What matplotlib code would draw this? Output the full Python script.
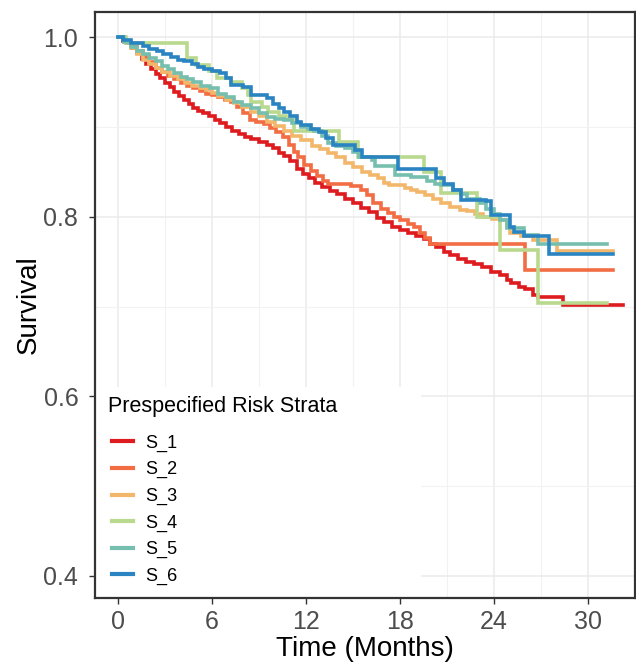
import matplotlib.pyplot as plt
from matplotlib.patches import Rectangle

plt.rcParams['font.family'] = ['Liberation Sans', 'DejaVu Sans']

# Kaplan-Meier estimates per stratum (months, survival)
s1_time = [0.0, 0.3, 0.6, 0.9, 1.2, 1.5, 1.8, 2.1, 2.4, 2.7, 3.0, 3.3, 3.6, 3.9, 4.2, 4.5, 4.8, 5.1,
           5.4, 5.8, 6.2, 6.5, 6.9, 7.3, 7.7, 8.1, 8.5, 9.0, 9.5, 9.9, 10.3, 10.6, 11.0, 11.4, 11.8,
           12.2, 12.6, 13.0, 13.5, 14.0, 14.5, 15.0, 15.5, 16.0, 16.5, 17.0, 17.5, 18.0, 18.5, 19.0,
           19.5, 19.9, 20.3, 20.8, 21.2, 21.7, 22.2, 22.7, 23.2, 23.8, 24.4, 24.8, 25.1, 25.6, 26.0,
           26.5, 26.8, 28.4, 32.2]
s1_surv = [1.000, 0.996, 0.993, 0.988, 0.982, 0.976, 0.970, 0.964, 0.959, 0.954, 0.949, 0.944, 0.939,
           0.934, 0.930, 0.925, 0.921, 0.918, 0.915, 0.912, 0.908, 0.904, 0.900, 0.896, 0.892, 0.889,
           0.886, 0.883, 0.880, 0.876, 0.871, 0.868, 0.862, 0.853, 0.848, 0.843, 0.838, 0.833, 0.829,
           0.825, 0.820, 0.815, 0.810, 0.805, 0.799, 0.794, 0.789, 0.785, 0.782, 0.779, 0.775, 0.770,
           0.766, 0.761, 0.757, 0.753, 0.750, 0.747, 0.744, 0.739, 0.735, 0.730, 0.726, 0.722, 0.719,
           0.713, 0.711, 0.702, 0.702]

s2_time = [0.0, 0.4, 0.8, 1.2, 1.6, 2.0, 2.4, 2.8, 3.2, 3.6, 4.0, 4.4, 4.8, 5.2, 5.6, 6.0, 6.4, 6.8,
           7.2, 7.6, 8.0, 8.4, 8.8, 9.3, 9.7, 10.1, 10.5, 10.9, 11.2, 11.5, 11.9, 12.3, 12.7, 13.1,
           13.4, 14.9, 15.5, 15.9, 16.3, 16.8, 17.2, 17.6, 18.0, 18.5, 18.9, 19.3, 19.6, 19.9, 26.0,
           31.6]
s2_surv = [1.000, 0.995, 0.990, 0.985, 0.979, 0.972, 0.966, 0.961, 0.957, 0.953, 0.949, 0.946, 0.943,
           0.940, 0.937, 0.935, 0.933, 0.930, 0.928, 0.922, 0.915, 0.908, 0.905, 0.903, 0.899, 0.894,
           0.889, 0.880, 0.872, 0.866, 0.858, 0.851, 0.845, 0.840, 0.837, 0.834, 0.830, 0.824, 0.815,
           0.809, 0.804, 0.800, 0.796, 0.792, 0.789, 0.782, 0.776, 0.770, 0.741, 0.741]

s3_time = [0.0, 0.4, 0.8, 1.2, 1.6, 2.0, 2.4, 2.8, 3.3, 3.8, 4.3, 4.7, 5.2, 5.6, 6.0, 6.4, 6.9, 7.4,
           7.9, 8.5, 9.0, 9.5, 10.0, 10.6, 11.1, 11.7, 12.4, 12.9, 13.4, 13.9, 14.5, 15.0, 15.6, 16.1,
           16.6, 17.0, 17.3, 18.3, 18.7, 19.1, 19.6, 20.1, 20.6, 21.2, 21.8, 22.3, 22.8, 23.3, 23.9,
           24.4, 24.8, 25.0, 25.7, 26.5, 28.0, 31.6]
s3_surv = [1.000, 0.995, 0.988, 0.981, 0.975, 0.970, 0.966, 0.961, 0.957, 0.953, 0.949, 0.946, 0.943,
           0.941, 0.938, 0.934, 0.930, 0.927, 0.922, 0.917, 0.912, 0.906, 0.901, 0.895, 0.890, 0.885,
           0.879, 0.875, 0.871, 0.866, 0.860, 0.855, 0.850, 0.846, 0.843, 0.838, 0.835, 0.832, 0.830,
           0.828, 0.824, 0.820, 0.815, 0.811, 0.808, 0.806, 0.803, 0.800, 0.798, 0.796, 0.789, 0.782,
           0.778, 0.774, 0.762, 0.762]

s4_time = [0.0, 0.5, 4.4, 5.0, 5.8, 6.3, 7.2, 7.9, 8.3, 8.5, 9.2, 9.6, 10.3, 10.7, 11.2, 14.1, 15.3,
           19.5, 20.6, 22.9, 24.4, 26.8, 31.2]
s4_surv = [1.000, 0.993, 0.977, 0.969, 0.962, 0.954, 0.950, 0.943, 0.935, 0.928, 0.922, 0.917, 0.912,
           0.909, 0.896, 0.883, 0.867, 0.850, 0.826, 0.800, 0.763, 0.704, 0.704]

s5_time = [0.0, 0.4, 0.8, 1.2, 1.6, 2.0, 2.4, 2.8, 3.2, 3.6, 4.0, 4.4, 4.8, 5.3, 5.9, 6.4, 6.9, 7.4,
           7.9, 8.5, 9.0, 9.5, 10.0, 10.6, 11.1, 11.7, 12.1, 12.5, 13.0, 13.4, 13.9, 14.5, 15.0, 15.4,
           16.2, 16.4, 17.7, 18.7, 19.7, 20.2, 20.6, 21.4, 21.9, 22.3, 23.1, 23.5, 24.0, 24.4, 24.8,
           25.9, 26.8, 31.2]
s5_surv = [1.000, 0.995, 0.989, 0.985, 0.981, 0.977, 0.973, 0.968, 0.964, 0.960, 0.956, 0.953, 0.950,
           0.946, 0.943, 0.937, 0.933, 0.928, 0.924, 0.921, 0.916, 0.911, 0.909, 0.908, 0.904, 0.900,
           0.898, 0.895, 0.890, 0.882, 0.879, 0.876, 0.872, 0.867, 0.863, 0.856, 0.846, 0.844, 0.840,
           0.837, 0.835, 0.830, 0.825, 0.820, 0.815, 0.809, 0.803, 0.796, 0.787, 0.780, 0.770, 0.770]

s6_time = [0.0, 0.3, 0.8, 1.6, 2.0, 2.5, 2.9, 3.4, 3.8, 4.2, 4.7, 5.1, 5.5, 6.0, 6.5, 6.9, 7.2, 8.0,
           8.5, 9.5, 9.9, 10.3, 10.6, 11.0, 11.4, 11.7, 12.3, 12.8, 13.3, 13.7, 15.1, 15.6, 17.9, 20.3,
           20.8, 21.4, 21.9, 23.5, 23.8, 25.0, 25.3, 25.9, 27.5, 31.6]
s6_surv = [1.000, 0.997, 0.993, 0.990, 0.987, 0.984, 0.981, 0.978, 0.975, 0.973, 0.970, 0.967, 0.964,
           0.962, 0.960, 0.955, 0.947, 0.945, 0.935, 0.932, 0.926, 0.921, 0.917, 0.912, 0.906, 0.902,
           0.898, 0.894, 0.888, 0.880, 0.874, 0.867, 0.853, 0.843, 0.837, 0.830, 0.819, 0.817, 0.802,
           0.789, 0.783, 0.778, 0.758, 0.758]

strata = ['S_1', 'S_2', 'S_3', 'S_4', 'S_5', 'S_6']
times = [s1_time, s2_time, s3_time, s4_time, s5_time, s6_time]
survs = [s1_surv, s2_surv, s3_surv, s4_surv, s5_surv, s6_surv]
colors = ['#DE1B1F', '#F26D43', '#F3B76B', '#B9D98F', '#76BFAE', '#2A84C1']

x_ticks = [0, 6, 12, 18, 24, 30]
y_ticks = [0.4, 0.6, 0.8, 1.0]

fig = plt.figure(figsize=(6.36, 6.65), dpi=100)
ax = fig.add_axes([0.1494, 0.1008, 0.8491, 0.8812])

for t, s, c, lab in zip(times, survs, colors, strata):
    ax.step(t, s, where='post', color=c, lw=2.6, label=lab, solid_joinstyle='miter')

ax.set_xlim(-1.47, 33.0)
ax.set_ylim(0.3755, 1.028)
ax.set_xticks(x_ticks)
ax.set_yticks(y_ticks)
ax.set_yticklabels([f'{v:.1f}' for v in y_ticks])
ax.set_xticks([3, 9, 15, 21, 27, 33], minor=True)
ax.set_yticks([0.5, 0.7, 0.9], minor=True)
ax.grid(which='major', color='#EBEBEB', lw=1.1)
ax.grid(which='minor', color='#F2F2F2', lw=0.8)
ax.set_axisbelow(True)
ax.tick_params(which='major', direction='out', length=4, width=1, color='#333333',
               labelsize=18, labelcolor='#4D4D4D')
ax.tick_params(axis='x', which='major', pad=5)
ax.tick_params(axis='y', which='major', pad=8)
ax.tick_params(which='minor', length=0)
for sp in ax.spines.values():
    sp.set_color('#333333')
    sp.set_linewidth(1.6)

ax.set_xlabel('Time (Months)', fontsize=20, labelpad=1)
ax.set_ylabel('Survival', fontsize=20, labelpad=1)

# white panel behind the legend
ax.add_patch(Rectangle((0.0, 0.0), 0.604, 0.36, transform=ax.transAxes,
                       facecolor='white', edgecolor='none', zorder=1.5))
ax.text(0.024, 0.326, 'Prespecified Risk Strata', transform=ax.transAxes,
        fontsize=15.5, va='center', ha='left', zorder=3)

leg = ax.legend(loc='upper left', bbox_to_anchor=(0.015, 0.294), frameon=False,
                fontsize=13, handlelength=1.16, handletextpad=0.65, labelspacing=0.52,
                borderpad=0)
leg.set_zorder(3)
for h in leg.get_lines():
    h.set_linewidth(3)

fig.savefig('out.png', dpi=100)
